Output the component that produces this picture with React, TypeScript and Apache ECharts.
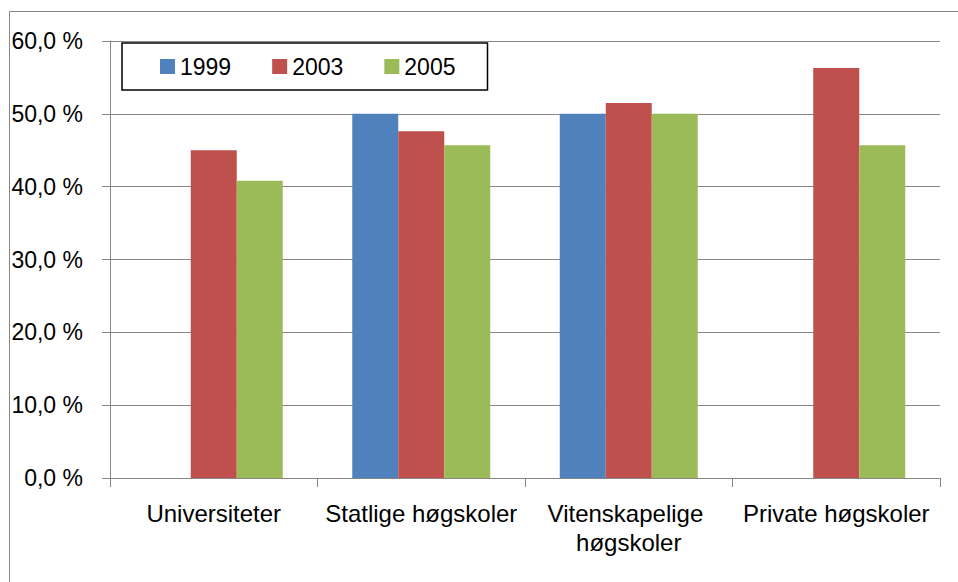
import React, { useEffect, useRef } from "react";
import * as echarts from "echarts";

const categories = ["Universiteter", "Statlige høgskoler", "Vitenskapelige høgskoler", "Private høgskoler"];
const seriesNames = ["1999", "2003", "2005"];
const values1999 = [null, 50.0, 50.0, null];
const values2003 = [45.0, 47.6, 51.5, 56.3];
const values2005 = [40.8, 45.7, 50.0, 45.7];
const colors = ["#4F81BD", "#C0504D", "#9BBB59"];

const FONT = "Liberation Sans, Arial, sans-serif";

export default function App() {
  const ref = useRef<HTMLDivElement>(null);
  useEffect(() => {
    if (!ref.current) return;
    const chart = echarts.init(ref.current, null, { renderer: "svg" });
    const data = [values1999, values2003, values2005];
    chart.setOption({
      animation: false,
      backgroundColor: "#ffffff",
      textStyle: { fontFamily: FONT },
      grid: { left: 110, right: 18, top: 41, bottom: 104, containLabel: false },
      legend: {
        left: 122,
        top: 43,
        orient: "horizontal",
        icon: "rect",
        itemWidth: 15,
        itemHeight: 15,
        itemGap: 41,
        padding: [12, 32, 12, 38],
        borderColor: "#000000",
        borderWidth: 1.5,
        borderRadius: 0,
        textStyle: { fontSize: 23, color: "#000000", fontFamily: FONT },
        data: seriesNames,
      },
      xAxis: {
        type: "category",
        data: categories,
        boundaryGap: true,
        axisLine: { show: true, lineStyle: { color: "#868686", width: 1 } },
        axisTick: { show: true, length: 9, lineStyle: { color: "#868686" } },
        axisLabel: {
          interval: 0,
          margin: 21,
          fontSize: 24,
          lineHeight: 29,
          color: "#000000",
          fontFamily: FONT,
          width: 205,
          overflow: "break",
        },
        splitLine: { show: false },
      },
      yAxis: {
        type: "value",
        min: 0,
        max: 60,
        interval: 10,
        axisLine: { show: true, lineStyle: { color: "#868686", width: 1 } },
        axisTick: { show: true, length: 8, lineStyle: { color: "#868686" } },
        axisLabel: {
          margin: 27,
          fontSize: 23,
          color: "#000000",
          fontFamily: FONT,
          formatter: (v: number) => v.toFixed(1).replace(".", ",") + " %",
        },
        splitLine: { show: true, lineStyle: { color: "#868686", width: 1 } },
      },
      series: seriesNames.map((name, i) => ({
        name,
        type: "bar",
        data: data[i],
        barGap: "0%",
        barCategoryGap: "33.5%",
        itemStyle: { color: colors[i] },
      })),
      graphic: [
        {
          type: "polyline",
          shape: { points: [[9.5, 582], [9.5, 11.5], [958, 11.5]] },
          style: { stroke: "#868686", lineWidth: 1, fill: "none" },
          silent: true,
        },
      ],
    });
    return () => chart.dispose();
  }, []);
  return (
    <div
      ref={ref}
      style={{ position: "absolute", left: 0, top: 0, width: 958, height: 582 }}
    />
  );
}
